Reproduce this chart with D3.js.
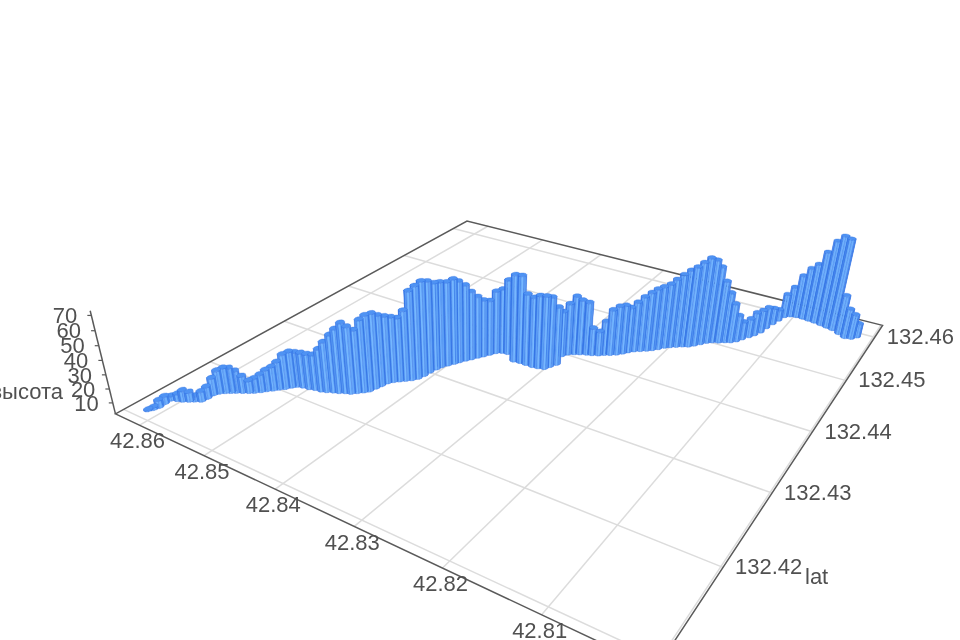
<!DOCTYPE html>
<html><head><meta charset="utf-8"><script src="https://cdn.jsdelivr.net/npm/d3@7"></script>
<style>html,body{margin:0;background:#fff}svg{display:block;filter:blur(0.45px)}text{font-family:"Liberation Sans",Arial,sans-serif;font-size:22px;fill:#505050}</style></head><body>
<svg id="c" width="960" height="640"></svg>
<script>
const lonTicks=[42.80,42.81,42.82,42.83,42.84,42.85,42.86];
const latTicks=[132.41,132.42,132.43,132.44,132.45,132.46];
const altTicks=[10,20,30,40,50,60,70];
const lonLabels=[42.81,42.82,42.83,42.84,42.85,42.86];
const latLabels=[132.42,132.43,132.44,132.45,132.46];
const altAxisTitle="высота";
const latAxisTitle="lat";
const lons=[42.8617,42.8614,42.8612,42.8613,42.8613,42.8606,42.86,42.8594,42.8589,42.8583,
42.8582,42.8582,42.8579,42.8574,42.8569,42.8564,42.8558,42.8552,42.8547,42.8542,
42.8538,42.8533,42.8529,42.8524,42.852,42.8516,42.8509,42.8501,42.8494,42.8486,
42.848,42.8473,42.8467,42.8461,42.8455,42.845,42.8445,42.8441,42.8439,42.8437,
42.8435,42.8431,42.8426,42.8421,42.8416,42.8412,42.841,42.8409,42.8407,42.8405,
42.8401,42.8397,42.8394,42.839,42.8386,42.8382,42.8378,42.8374,42.837,42.8364,
42.8357,42.8341,42.8333,42.8325,42.8316,42.8309,42.8302,42.8299,42.8295,42.83,
42.8296,42.829,42.8284,42.8277,42.8271,42.8264,42.8259,42.8253,42.8247,42.8242,
42.8238,42.8233,42.8227,42.8221,42.8216,42.8211,42.8206,42.8201,42.8195,42.8189,
42.8183,42.8178,42.8173,42.8168,42.8163,42.8156,42.815,42.8144,42.8139,42.8135,
42.813,42.8126,42.8122,42.812,42.8117,42.8114,42.8111,42.8105,42.8098,42.809,
42.8082,42.8074,42.8065,42.8057,42.8049,42.8039,42.803,42.8023,42.8018];
const lats=[132.4112,132.4116,132.4121,132.4128,132.4135,132.4138,132.414,132.4143,132.4146,132.4149,
132.4155,132.4162,132.4167,132.4171,132.4174,132.4177,132.418,132.4183,132.4186,132.419,
132.4194,132.4198,132.4202,132.4206,132.4211,132.4215,132.4217,132.4218,132.422,132.4221,
132.4223,132.4226,132.4228,132.4231,132.4233,132.4237,132.4241,132.4245,132.4252,132.4258,
132.4265,132.427,132.4274,132.4278,132.4282,132.4287,132.4294,132.4302,132.431,132.4316,
132.4322,132.4328,132.4333,132.4339,132.4344,132.435,132.4355,132.4361,132.4367,132.4371,
132.4372,132.4363,132.4364,132.4364,132.4364,132.4365,132.4367,132.4373,132.438,132.4397,
132.4403,132.4407,132.441,132.4413,132.4415,132.4418,132.4422,132.4425,132.4429,132.4434,
132.4439,132.4444,132.4448,132.4452,132.4456,132.4461,132.4467,132.4471,132.4475,132.4479,
132.4482,132.4487,132.4493,132.4499,132.4503,132.4506,132.451,132.4513,132.4518,132.4525,
132.4533,132.454,132.4549,132.4561,132.4573,132.4584,132.4595,132.46,132.4602,132.4602,
132.4601,132.46,132.4598,132.4596,132.4594,132.4589,132.4584,132.4586,132.4592];
const alts=[2.7,3.7,7.2,7.2,5.0,6.9,9.7,8.5,5.7,9.0,
10.4,14.2,18.6,20.1,19.9,17.7,13.9,10.6,12.2,14.6,
17.2,19.1,22.0,27.0,28.0,27.0,27.1,27.3,27.5,32.6,
38.0,43.3,47.8,52.0,49.8,47.0,53.7,56.2,55.7,52.9,
50.4,49.0,48.0,52.7,65.9,68.5,70.0,67.9,64.8,64.0,
62.9,64.0,61.5,57.7,52.2,47.5,44.1,42.6,48.3,49.7,
57.0,65.5,65.8,53.9,52.9,55.0,55.1,53.2,44.6,35.4,
40.1,45.3,42.5,41.0,22.2,19.9,27.1,35.8,38.2,38.2,
35.7,38.9,42.7,45.6,47.8,48.8,49.8,52.8,56.1,59.0,
61.4,64.0,66.4,64.0,58.8,48.4,39.6,31.4,21.8,15.3,
16.0,19.3,19.1,18.0,14.3,10.4,19.9,25.1,34.6,41.5,
46.0,56.5,66.4,71.6,71.0,31.7,24.2,20.4,12.5];
const A=[117,413],F=[655,666],R=[881,325],B=[467,221],VP=[480,1900];
const lonS=d3.scaleLinear().domain([42.864,42.80]).range([0,1]);
const latT=d3.scaleLinear().domain([132.4093,132.463]).range([0,1]);
const x0=A[0],y0=A[1],x1=F[0],y1=F[1],x2=R[0],y2=R[1],x3=B[0],y3=B[1];
const dx3=x0-x1+x2-x3,dy3=y0-y1+y2-y3,dx1=x1-x2,dx2=x3-x2,dy1=y1-y2,dy2=y3-y2,den=dx1*dy2-dx2*dy1;
const g=(dx3*dy2-dx2*dy3)/den,h=(dx1*dy3-dx3*dy1)/den;
const a=x1-x0+g*x1,b=x3-x0+h*x3,c=x0,d=y1-y0+g*y1,e=y3-y0+h*y3,f=y0;
const zK=-0.000912,z0=2,zTop=73;
function proj(s,t,z=z0){const k=zK*(z-z0),w=g*s+h*t+1+k;return [(a*s+b*t+c+k*VP[0])/w,(d*s+e*t+f+k*VP[1])/w];}
const svg=d3.select('#c');
const line=d3.line();
const GRID='#dcdcdc',AXIS='#5a5a5a';
const edge=1.003,edgeT=-0.003;
const gg=svg.append('g').attr('fill','none').attr('stroke',GRID).attr('stroke-width',1.5);
gg.selectAll('.lon').data(lonTicks).join('path').attr('d',v=>line([proj(lonS(v),edgeT),proj(lonS(v),1)]));
gg.selectAll('.lat').data(latTicks).join('path').attr('d',v=>line([proj(0,latT(v)),proj(edge,latT(v))]));
svg.append('path').attr('fill','none').attr('stroke',AXIS).attr('stroke-width',1.5)
 .attr('d',line([proj(0,edgeT),proj(edge,edgeT),proj(edge,1),proj(0,1)])+'Z');
svg.append('path').attr('fill','none').attr('stroke',AXIS).attr('stroke-width',1.5)
 .attr('d',line([proj(0,edgeT,z0),proj(0,edgeT,zTop)]));
svg.append('g').attr('stroke',AXIS).attr('stroke-width',1.2).selectAll('path').data(altTicks).join('path')
 .attr('d',v=>{const p=proj(0,edgeT,v);return line([p,[p[0]-4,p[1]]]);});
const rad=0.0075,N=10;
const angles=d3.range(N).map(i=>i/N*2*Math.PI);
const light='#76b8ff',dark='#2e6ee2';
const shade=d3.interpolateRgb(light,dark);
const pts=lons.map((lon,i)=>({s:lonS(lon),t:latT(lats[i]),z:alts[i]}))
 .sort((p,q)=>(g*q.s+h*q.t)-(g*p.s+h*p.t));
const tubes=svg.append('g');
pts.forEach(p=>{
  const ring=z=>angles.map(th=>proj(p.s+rad*Math.cos(th),p.t+rad*1.05*Math.sin(th),z));
  const lo=ring(z0),hi=ring(p.z),ctr=proj(p.s,p.t);
  const rp=d3.max(lo,q=>Math.abs(q[0]-ctr[0]))||1;
  const faces=angles.map((th,i)=>{
    const j=(i+1)%N;
    return {poly:[lo[i],lo[j],hi[j],hi[i]],mid:Math.abs((lo[i][0]+lo[j][0])/2-ctr[0])/rp,ym:(lo[i][1]+lo[j][1])/2};
  }).filter(fc=>fc.ym>=ctr[1]-0.5);
  tubes.append('g').selectAll('path').data(faces).join('path')
    .attr('d',fc=>line(fc.poly)+'Z')
    .attr('fill',fc=>shade(Math.pow(fc.mid,2)))
    .attr('stroke',dark).attr('stroke-opacity',0.5).attr('stroke-width',0.7);
  tubes.append('path').attr('d',line(hi)+'Z').attr('fill','#4f93f3').attr('stroke',dark).attr('stroke-opacity',0.5).attr('stroke-width',0.6);
});
const tl=svg.append('g');
tl.selectAll('.a').data(lonLabels).join('text').attr('text-anchor','middle').attr('dy','.35em')
 .attr('x',v=>proj(lonS(v),edgeT)[0]-2).attr('y',v=>proj(lonS(v),edgeT)[1]+15.5).text(v=>v.toFixed(2));
tl.selectAll('.b').data(latLabels).join('text').attr('text-anchor','start').attr('dy','.35em')
 .attr('x',v=>proj(edge,latT(v))[0]+12).attr('y',v=>proj(edge,latT(v))[1]-1).text(v=>v.toFixed(2));
tl.selectAll('.c').data(altTicks).join('text').attr('text-anchor','end').attr('dy','.35em')
 .attr('x',v=>proj(0,edgeT,v)[0]-14).attr('y',v=>proj(0,edgeT,v)[1]).text(v=>v);
tl.append('text').attr('text-anchor','end').attr('x',63).attr('y',391).attr('dy','.35em').text(altAxisTitle);
tl.append('text').attr('text-anchor','start').attr('x',805).attr('y',576).attr('dy','.35em').text(latAxisTitle);
</script></body></html>
